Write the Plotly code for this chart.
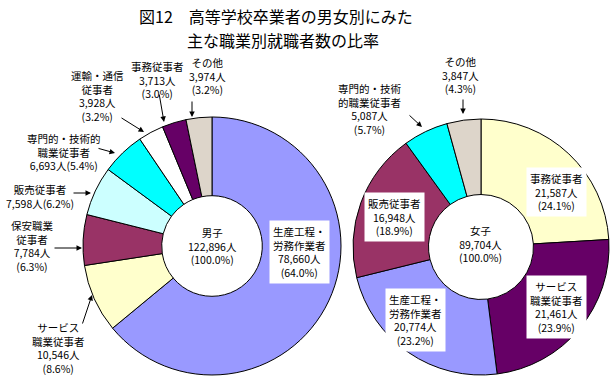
import plotly.graph_objects as go

W, H = 614, 381

# ---- data ----
male_names = ["生産工程・<br>労務作業者", "サービス<br>職業従事者", "保安職業<br>従事者", "販売従事者",
              "専門的・技術的<br>職業従事者", "運輸・通信<br>従事者", "事務従事者", "その他"]
male_values = [78660, 10546, 7784, 7598, 6693, 3928, 3713, 3974]
male_pct = ["64.0", "8.6", "6.3", "6.2", "5.4", "3.2", "3.0", "3.2"]
male_colors = ["#9999FF", "#FFFFCC", "#993366", "#CCFFFF", "#00FFFF", "#FFFFFF", "#660066", "#DDD5CA"]
male_total = 122896

female_names = ["事務従事者", "サービス<br>職業従事者", "生産工程・<br>労務作業者", "販売従事者",
                "専門的・技術<br>的職業従事者", "その他"]
female_values = [21587, 21461, 20774, 16948, 5087, 3847]
female_pct = ["24.1", "23.9", "23.2", "18.9", "5.7", "4.3"]
female_colors = ["#FFFFCC", "#660066", "#9999FF", "#993366", "#00FFFF", "#DDD5CA"]
female_total = 89704

FONT = "Noto Sans CJK JP"
FS = 10.5


def px(x):
    return x / W


def py(y):
    return 1 - y / H


fig = go.Figure()
fig.add_trace(go.Pie(
    values=male_values, labels=[n.replace("<br>", "") for n in male_names],
    marker=dict(colors=male_colors, line=dict(color="black", width=1)),
    hole=0.39, sort=False, direction="clockwise", rotation=0,
    textinfo="none", hoverinfo="skip", showlegend=False,
    domain=dict(x=[px(212 - 129), px(212 + 129)], y=[py(375), py(117)]),
))
fig.add_trace(go.Pie(
    values=female_values, labels=[n.replace("<br>", "") + " " for n in female_names],
    marker=dict(colors=female_colors, line=dict(color="black", width=1)),
    hole=0.41, sort=False, direction="clockwise", rotation=0,
    textinfo="none", hoverinfo="skip", showlegend=False,
    domain=dict(x=[px(481 - 128), px(481 + 128)], y=[py(375), py(119)]),
))


def fmt(v):
    return f"{v:,}人"


ann = []


def label(x, y, text, box=False, size=FS):
    ann.append(dict(x=px(x), y=py(y), xref="paper", yref="paper", text=text,
                    showarrow=False, xanchor="center", yanchor="middle", align="center",
                    font=dict(family=FONT, size=size, color="black"),
                    bgcolor="white" if box else None, borderpad=3))


def arrow(x0, y0, x1, y1):
    ann.append(dict(x=px(x1), y=py(y1), xref="paper", yref="paper", text="",
                    showarrow=True, ax=x0 - x1, ay=y0 - y1, axref="pixel", ayref="pixel",
                    arrowhead=2, arrowsize=1.1, arrowwidth=1, arrowcolor="black"))


# title
ann.append(dict(x=px(137), y=py(16), xref="paper", yref="paper", text="図12　高等学校卒業者の男女別にみた",
                showarrow=False, xanchor="left", yanchor="middle",
                font=dict(family=FONT, size=16, color="black")))
ann.append(dict(x=px(185), y=py(40), xref="paper", yref="paper", text="主な職業別就職者数の比率",
                showarrow=False, xanchor="left", yanchor="middle",
                font=dict(family=FONT, size=16, color="black")))

# male labels
m = {i: (male_names[i], male_values[i], male_pct[i]) for i in range(len(male_names))}
label(299, 252, f"{m[0][0]}<br>{fmt(m[0][1])}<br>({m[0][2]}%)", box=True)
label(58, 348, f"{m[1][0]}<br>{fmt(m[1][1])}<br>({m[1][2]}%)")
label(32, 246, f"{m[2][0]}<br>{fmt(m[2][1])}<br>({m[2][2]}%)")
label(40, 196, f"{m[3][0]}<br>{fmt(m[3][1])}({m[3][2]}%)")
label(64, 152, f"{m[4][0]}<br>{fmt(m[4][1])}({m[4][2]}%)")
label(98, 96, f"{m[5][0]}<br>{fmt(m[5][1])}<br>({m[5][2]}%)")
label(157, 80, f"{m[6][0]}<br>{fmt(m[6][1])}<br>({m[6][2]}%)")
label(207, 76, f"{m[7][0]}<br>{fmt(m[7][1])}<br>({m[7][2]}%)")
label(212, 246, f"男子<br>{fmt(male_total)}<br>(100.0%)")

arrow(192, 100, 192, 117)
arrow(159, 93, 164, 122)
arrow(120, 117, 144, 132)
arrow(97, 148, 115, 153)
arrow(72, 193, 91, 193)
arrow(53, 248, 82, 248)
arrow(82, 325, 92, 295)

# female labels
f = {i: (female_names[i], female_values[i], female_pct[i]) for i in range(len(female_names))}
label(556, 192, f"{f[0][0]}<br>{fmt(f[0][1])}<br>({f[0][2]}%)", box=True)
label(556, 307, f"{f[1][0]}<br>{fmt(f[1][1])}<br>({f[1][2]}%)", box=True)
label(415, 320, f"{f[2][0]}<br>{fmt(f[2][1])}<br>({f[2][2]}%)", box=True)
label(395, 217, f"{f[3][0]}<br>{fmt(f[3][1])}<br>({f[3][2]}%)", box=True)
label(370, 109, f"{f[4][0]}<br>{fmt(f[4][1])}<br>({f[4][2]}%)")
label(460, 75, f"{f[5][0]}<br>{fmt(f[5][1])}<br>({f[5][2]}%)")
label(480, 244, f"女子<br>{fmt(female_total)}<br>(100.0%)")

arrow(463, 98, 463, 114)
arrow(408, 114, 422, 127)

fig.update_layout(
    width=W, height=H, margin=dict(l=0, r=0, t=0, b=0),
    paper_bgcolor="white", plot_bgcolor="white",
    annotations=ann, showlegend=False,
    font=dict(family=FONT),
)

fig.write_html("out.html", config={"displayModeBar": False},
               post_script="document.body.style.margin='0';document.body.style.overflow='hidden';")
